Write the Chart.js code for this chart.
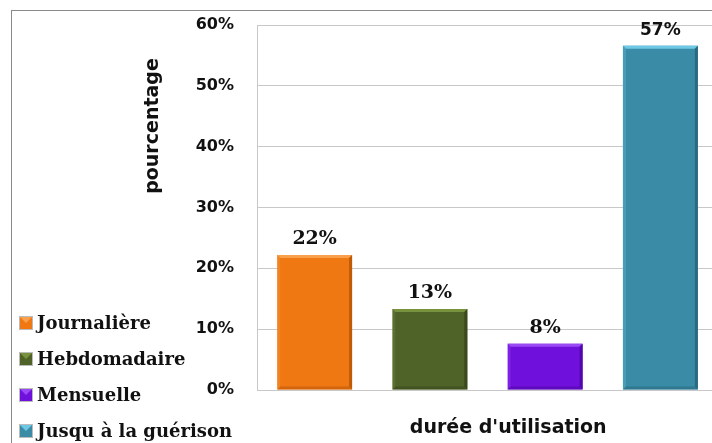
<!DOCTYPE html>
<html>
<head>
<meta charset="utf-8">
<script src="https://cdn.jsdelivr.net/npm/chart.js@4"></script>
<style>
  html, body { margin: 0; padding: 0; background: #fff; overflow: hidden; }
  #wrap { position: relative; width: 712px; height: 443px; overflow: hidden; background: #fff; }
  #frame { position: absolute; left: 11px; top: 10px; width: 760px; height: 520px; border: 1px solid #8a8a8a; box-sizing: border-box; pointer-events: none; }
  canvas { display: block; position: absolute; left: 0; top: 0; }
</style>
</head>
<body>
<div id="wrap">
  <canvas id="c" width="721" height="443"></canvas>
  <div id="frame"></div>
</div>
<script>
// ---- data ----
const categories = ["Journalière", "Hebdomadaire", "Mensuelle", "Jusqu à la guérison"];
const values = [22.2, 13.3, 7.6, 56.6];
const xLabel = ["durée d'utilisation"];
const yTicks = [0, 10, 20, 30, 40, 50, 60];
const yTitle = "pourcentage";
const colors = ["#F07812", "#4F6228", "#7010DC", "#3A8CA6"];
const lightColors = ["#F9A04C", "#78923E", "#9A4AF4", "#6CC8E4"];
const darkColors = ["#C05A08", "#3A4A1C", "#5008A8", "#2A6A80"];

const datasets = categories.map((name, i) => ({
  label: name,
  data: [values[i]],
  backgroundColor: colors[i],
  borderColor: darkColors[i],
  borderWidth: 0,
  categoryPercentage: 1.0,
  barPercentage: 0.65
}));

const bevelPlugin = {
  id: 'bevel',
  afterDatasetsDraw(chart) {
    const ctx = chart.ctx;
    chart.data.datasets.forEach((ds, di) => {
      const meta = chart.getDatasetMeta(di);
      meta.data.forEach(bar => {
        const l = bar.x - bar.width / 2, r = bar.x + bar.width / 2;
        const t = bar.y, b = bar.base;
        const e = 3;
        ctx.save();
        // top bevel
        ctx.fillStyle = lightColors[di];
        ctx.beginPath();
        ctx.moveTo(l, t); ctx.lineTo(r, t); ctx.lineTo(r - e, t + e); ctx.lineTo(l + e, t + e); ctx.closePath();
        ctx.fill();
        // right bevel
        ctx.fillStyle = darkColors[di];
        ctx.beginPath();
        ctx.moveTo(r, t); ctx.lineTo(r, b); ctx.lineTo(r - e, b - e); ctx.lineTo(r - e, t + e); ctx.closePath();
        ctx.fill();
        // bottom bevel
        ctx.globalAlpha = 0.6;
        ctx.beginPath();
        ctx.moveTo(l, b); ctx.lineTo(r, b); ctx.lineTo(r - e, b - e); ctx.lineTo(l + e, b - e); ctx.closePath();
        ctx.fill();
        // left bevel
        ctx.globalAlpha = 0.3;
        ctx.fillStyle = lightColors[di];
        ctx.beginPath();
        ctx.moveTo(l, t); ctx.lineTo(l, b); ctx.lineTo(l + e, b - e); ctx.lineTo(l + e, t + e); ctx.closePath();
        ctx.fill();
        ctx.restore();
        // value label
        ctx.save();
        ctx.fillStyle = '#111';
        ctx.textAlign = 'center';
        ctx.textBaseline = 'alphabetic';
        ctx.font = di === 3 ? 'bold 17px "DejaVu Sans"' : 'bold 19px "DejaVu Serif"';
        ctx.fillText(Math.round(ds.data[0]) + '%', bar.x, bar.y - 11);
        ctx.restore();
      });
    });
  }
};

const textPlugin = {
  id: 'texts',
  afterDraw(chart) {
    const ctx = chart.ctx;
    const area = chart.chartArea;
    ctx.save();
    ctx.fillStyle = '#111';
    // x axis title
    ctx.font = 'bold 19px "DejaVu Sans"';
    ctx.textAlign = 'center';
    ctx.textBaseline = 'alphabetic';
    ctx.fillText(xLabel[0], area.left + 0.545 * (area.right - area.left), area.bottom + 43);
    // y axis title
    ctx.save();
    ctx.translate(158, 126);
    ctx.rotate(-Math.PI / 2);
    ctx.fillText(yTitle, 0, 0);
    ctx.restore();
    // legend
    ctx.font = 'bold 18px "DejaVu Serif"';
    ctx.textAlign = 'left';
    ctx.textBaseline = 'middle';
    chart.data.datasets.forEach((ds, i) => {
      const cy = 323 + i * 36;
      const bx = 20, s = 12;
      ctx.fillStyle = colors[i];
      ctx.fillRect(bx, cy - s / 2, s, s);
      ctx.fillStyle = lightColors[i];
      ctx.beginPath();
      ctx.moveTo(bx, cy - s / 2); ctx.lineTo(bx + s, cy - s / 2); ctx.lineTo(bx + s / 2, cy); ctx.closePath();
      ctx.fill();
      ctx.strokeStyle = '#bbb';
      ctx.lineWidth = 1;
      ctx.strokeRect(bx - 0.5, cy - s / 2 - 0.5, s + 1, s + 1);
      ctx.fillStyle = '#111';
      ctx.fillText(ds.label, 37, cy + 1);
    });
    ctx.restore();
  }
};

new Chart(document.getElementById('c'), {
  type: 'bar',
  data: { labels: xLabel, datasets },
  options: {
    responsive: false,
    animation: false,
    devicePixelRatio: 1,
    layout: { padding: { left: 137, right: 3, top: 25, bottom: 53 } },
    plugins: { legend: { display: false }, tooltip: { enabled: false } },
    scales: {
      x: {
        ticks: { display: false },
        grid: { display: false, drawTicks: false },
        border: { display: false }
      },
      y: {
        min: yTicks[0],
        max: yTicks[yTicks.length - 1],
        afterBuildTicks: (scale) => { scale.ticks = yTicks.map(v => ({ value: v })); },
        afterFit: (scale) => { scale.width = 120; scale.paddingTop = 10; scale.paddingBottom = 10; },
        ticks: {
          padding: 23,
          color: '#111',
          font: { family: 'DejaVu Sans', weight: 'bold', size: 16 },
          callback: (v) => v + '%'
        },
        grid: { color: '#c8c8c8', lineWidth: 1, drawTicks: false },
        border: { display: true, color: '#c8c8c8' }
      }
    }
  },
  plugins: [bevelPlugin, textPlugin]
});
</script>
</body>
</html>
